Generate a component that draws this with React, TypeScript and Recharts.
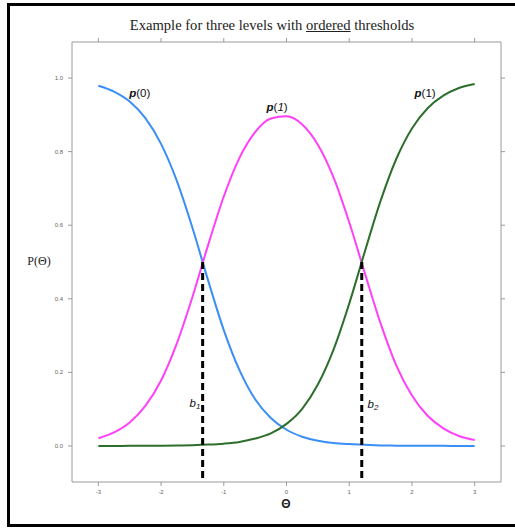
import React from "react";
import {
  LineChart,
  Line,
  XAxis,
  YAxis,
  ReferenceLine,
  ReferenceDot,
} from "recharts";

const theta = [
  -3, -2.75, -2.5, -2.25, -2, -1.75, -1.5, -1.25, -1, -0.75, -0.5, -0.25, 0,
  0.25, 0.5, 0.75, 1, 1.25, 1.5, 1.75, 2, 2.25, 2.5, 2.75, 3,
];
const pZero = [
  0.979, 0.963, 0.936, 0.891, 0.821, 0.721, 0.593, 0.45, 0.315, 0.206, 0.127,
  0.076, 0.044, 0.025, 0.014, 0.008, 0.005, 0.003, 0.0015, 0.0008, 0.0005,
  0.0003, 0.0002, 0.0001, 0.0001,
];
const pMid = [
  0.021, 0.037, 0.064, 0.109, 0.178, 0.278, 0.405, 0.546, 0.678, 0.783, 0.853,
  0.89, 0.896, 0.874, 0.819, 0.73, 0.608, 0.469, 0.333, 0.219, 0.137, 0.082,
  0.048, 0.027, 0.016,
];
const pOne = [
  0.0001, 0.0001, 0.0002, 0.0004, 0.0006, 0.0011, 0.002, 0.0036, 0.0063, 0.011,
  0.02, 0.034, 0.06, 0.101, 0.167, 0.262, 0.387, 0.529, 0.666, 0.78, 0.863,
  0.918, 0.952, 0.973, 0.984,
];
const thresholds = [-1.337, 1.2];
const xTicks = [-3, -2, -1, 0, 1, 2, 3];
const yTicks = [0, 0.2, 0.4, 0.6, 0.8, 1.0];

const data = theta.map((t, i) => ({
  theta: t,
  p0: pZero[i],
  p1: pMid[i],
  p2: pOne[i],
}));

const X_DOMAIN: [number, number] = [-3.42, 3.42];
const Y_DOMAIN: [number, number] = [-0.098, 1.098];

const axisColor = "#9a9a9a";
const tickStyle = { fontSize: 6, fill: "#666", fontFamily: "Liberation Sans, Arial, sans-serif" };

const labelFont = "Liberation Sans, Arial, sans-serif";

const PLabel = (txt: string, italicArg: boolean) => (props: any) => {
  const vb = props.viewBox || {};
  const cx = (vb.x ?? 0) + (vb.width ?? 0) / 2;
  const cy = (vb.y ?? 0) + (vb.height ?? 0) / 2;
  return (
    <text
      x={cx}
      y={cy}
      textAnchor="middle"
      dominantBaseline="central"
      fontFamily={labelFont}
      fontSize={11.5}
      fill="#111"
    >
      <tspan fontStyle="italic" fontWeight="bold">p</tspan>
      <tspan>(</tspan>
      <tspan fontStyle={italicArg ? "italic" : "normal"}>{txt}</tspan>
      <tspan>)</tspan>
    </text>
  );
};

const BLabel = (sub: string) => (props: any) => {
  const vb = props.viewBox || {};
  const cx = (vb.x ?? 0) + (vb.width ?? 0) / 2;
  const cy = (vb.y ?? 0) + (vb.height ?? 0) / 2;
  return (
    <text
      x={cx}
      y={cy}
      textAnchor="middle"
      dominantBaseline="central"
      fontFamily={labelFont}
      fontSize={11.5}
      fill="#111"
    >
      <tspan fontStyle="italic">b</tspan>
      <tspan fontSize={8} fontStyle="italic" dy={3}>{sub}</tspan>
    </text>
  );
};

const labelsPos = [
  { x: -2.34, y: 0.96 },
  { x: -0.15, y: 0.92 },
  { x: 2.21, y: 0.96 },
  { x: -1.46, y: 0.117 },
  { x: 1.38, y: 0.114 },
];

const frameBar = (s: React.CSSProperties) => (
  <div style={{ position: "absolute", background: "#000", ...s }} />
);

export default function App() {
  return (
    <div
      style={{
        position: "absolute",
        left: 0,
        top: 0,
        width: 515,
        height: 528,
        overflow: "hidden",
        background: "#fff",
      }}
    >
      {frameBar({ left: 7, top: 3, width: 3, height: 524 })}
      {frameBar({ left: 7, top: 3, width: 508, height: 3 })}
      {frameBar({ left: 7, top: 524, width: 508, height: 3 })}
      <div
        style={{
          position: "absolute",
          left: 0,
          width: 544,
          textAlign: "center",
          top: 17,
          fontFamily: "Liberation Serif, Times New Roman, serif",
          fontSize: 14.6,
          color: "#222",
          whiteSpace: "nowrap",
        }}
      >
        Example for three levels with <u>ordered</u> thresholds
      </div>
      <div
        style={{
          position: "absolute",
          left: 20,
          top: 254,
          width: 38,
          textAlign: "center",
          fontFamily: "Liberation Serif, Times New Roman, serif",
          fontSize: 12,
          color: "#222",
        }}
      >
        P(Θ)
      </div>
      <div
        style={{
          position: "absolute",
          left: 276,
          top: 497,
          width: 20,
          textAlign: "center",
          fontFamily: labelFont,
          fontSize: 12,
          fontWeight: "bold",
          color: "#222",
        }}
      >
        Θ
      </div>
      <div style={{ position: "absolute", left: 0, top: 0 }}>
        <LineChart
          width={515}
          height={528}
          data={data}
          margin={{ top: 0, right: 0, bottom: 0, left: 0 }}
        >
          <XAxis
            dataKey="theta"
            type="number"
            domain={X_DOMAIN}
            ticks={xTicks}
            allowDataOverflow
            height={46}
            tickSize={4}
            tickMargin={4}
            axisLine={{ stroke: axisColor }}
            tickLine={{ stroke: axisColor }}
            tick={tickStyle}
          />
          <XAxis
            xAxisId="top"
            dataKey="theta"
            type="number"
            orientation="top"
            domain={X_DOMAIN}
            ticks={xTicks}
            allowDataOverflow
            height={42}
            tickSize={4}
            axisLine={{ stroke: axisColor }}
            tickLine={{ stroke: axisColor }}
            tick={() => <g />}
          />
          <YAxis
            type="number"
            domain={Y_DOMAIN}
            ticks={yTicks}
            allowDataOverflow
            width={72}
            tickSize={4}
            tickMargin={5}
            tickFormatter={(v: number) => v.toFixed(1)}
            axisLine={{ stroke: axisColor }}
            tickLine={{ stroke: axisColor }}
            tick={tickStyle}
          />
          <YAxis
            yAxisId="right"
            type="number"
            orientation="right"
            domain={Y_DOMAIN}
            ticks={yTicks}
            allowDataOverflow
            width={14}
            tickSize={4}
            axisLine={{ stroke: axisColor }}
            tickLine={{ stroke: axisColor }}
            tick={() => <g />}
          />
          <Line
            dataKey="p0"
            type="monotone"
            stroke="#3a8ef6"
            strokeWidth={2}
            dot={false}
            isAnimationActive={false}
          />
          <Line
            dataKey="p1"
            type="monotone"
            stroke="#ff40f8"
            strokeWidth={2}
            dot={false}
            isAnimationActive={false}
          />
          <Line
            dataKey="p2"
            type="monotone"
            stroke="#2d6e2d"
            strokeWidth={2}
            dot={false}
            isAnimationActive={false}
          />
          {thresholds.map((b) => (
            <ReferenceLine
              key={b}
              segment={[
                { x: b, y: 0.5 },
                { x: b, y: Y_DOMAIN[0] },
              ]}
              stroke="#000"
              strokeWidth={3}
              strokeDasharray="7 4"
            />
          ))}
          <ReferenceDot x={labelsPos[0].x} y={labelsPos[0].y} r={0} label={PLabel("0", false)} />
          <ReferenceDot x={labelsPos[1].x} y={labelsPos[1].y} r={0} label={PLabel("1", true)} />
          <ReferenceDot x={labelsPos[2].x} y={labelsPos[2].y} r={0} label={PLabel("1", false)} />
          <ReferenceDot x={labelsPos[3].x} y={labelsPos[3].y} r={0} label={BLabel("1")} />
          <ReferenceDot x={labelsPos[4].x} y={labelsPos[4].y} r={0} label={BLabel("2")} />
        </LineChart>
      </div>
    </div>
  );
}
